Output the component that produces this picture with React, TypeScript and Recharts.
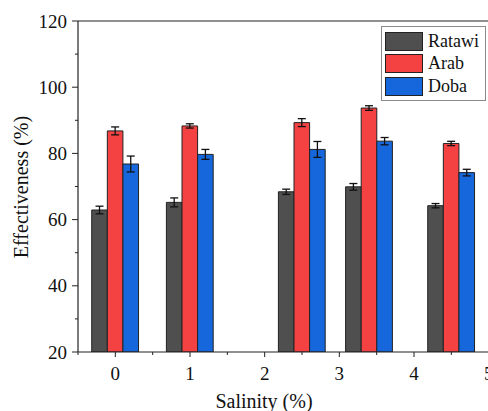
import React from "react";
import {
  ComposedChart,
  Bar,
  ErrorBar,
  XAxis,
  YAxis,
  Legend,
  ReferenceLine,
  Label,
} from "recharts";

const salinity = [0, 1, 2.5, 3.4, 4.5];
const ratawi = [62.9, 65.2, 68.4, 69.9, 64.2];
const arab = [86.8, 88.3, 89.3, 93.7, 83.0];
const doba = [76.8, 79.7, 81.2, 83.7, 74.2];
const ratawiErr = [1.15, 1.35, 0.8, 1.0, 0.65];
const arabErr = [1.2, 0.65, 1.2, 0.7, 0.65];
const dobaErr = [2.4, 1.5, 2.4, 1.1, 1.0];

const xTicks = [-0.5, 0, 0.5, 1, 1.5, 2, 2.5, 3, 3.5, 4, 4.5, 5, 5.5];
const yTicks = [20, 30, 40, 50, 60, 70, 80, 90, 100, 110, 120];

const seriesNames = ["Ratawi", "Arab", "Doba"];
const seriesColors = ["#4f4f4f", "#f44242", "#1767dc"];

const data = salinity.map((s, i) => ({
  salinity: s,
  ratawi: ratawi[i],
  arab: arab[i],
  doba: doba[i],
  ratawiErr: ratawiErr[i],
  arabErr: arabErr[i],
  dobaErr: dobaErr[i],
}));

const FONT = '"Liberation Serif", "Times New Roman", serif';
const INK = "#222";

const Y_TICK_SIZE = 6;
const Y_TICK_MARGIN = 5;
const X_TICK_SIZE = 5;
const X_TICK_MARGIN = 5;

const YTick = (props: any) => {
  const { x, y, payload } = props;
  const ax = x + Y_TICK_SIZE + Y_TICK_MARGIN;
  const major = payload.value % 20 === 0;
  return (
    <g>
      <line x1={ax} x2={ax - (major ? 6 : 3)} y1={y} y2={y} stroke={INK} />
      {major && (
        <text x={x} y={y} dy="0.35em" textAnchor="end" fontFamily={FONT} fontSize={19} fill="#111">
          {payload.value}
        </text>
      )}
    </g>
  );
};

const XTick = (props: any) => {
  const { x, y, payload } = props;
  const ay = y - X_TICK_SIZE - X_TICK_MARGIN;
  const major = Number.isInteger(payload.value);
  return (
    <g>
      <line x1={x} x2={x} y1={ay} y2={ay + (major ? 5 : 3)} stroke={INK} />
      {major && (
        <text x={x} y={y} dy="0.95em" textAnchor="middle" fontFamily={FONT} fontSize={19} fill="#111">
          {payload.value}
        </text>
      )}
    </g>
  );
};

const LegendBox = () => (
  <div
    style={{
      border: "1px solid #8a8a8a",
      background: "#fff",
      padding: "3px 2px 2px 3px",
      fontFamily: FONT,
      fontSize: 18,
      color: "#111",
      width: 98,
    }}
  >
    {seriesNames.map((n, i) => (
      <div key={n} style={{ display: "flex", alignItems: "center", height: 22.5 }}>
        <div
          style={{
            width: 38,
            height: 19,
            background: seriesColors[i],
            border: `1px solid ${INK}`,
            marginRight: 5,
            boxSizing: "border-box",
          }}
        />
        <span>{n}</span>
      </div>
    ))}
  </div>
);

export default function App() {
  return (
    <div
      style={{
        position: "fixed",
        left: 0,
        top: 0,
        width: 488,
        height: 411,
        overflow: "hidden",
        background: "#fff",
      }}
    >
      <ComposedChart
        width={536}
        height={411}
        data={data}
        margin={{ top: 21, right: 10, left: 0, bottom: 0 }}
        barGap={0}
        barSize={15.6}
      >
        <XAxis
          type="number"
          dataKey="salinity"
          domain={[-0.5, 5.5]}
          ticks={xTicks}
          interval={0}
          height={59}
          tickSize={X_TICK_SIZE}
          tickMargin={X_TICK_MARGIN}
          tickLine={false}
          tick={<XTick />}
          axisLine={{ stroke: INK, strokeWidth: 1.2 }}
          allowDataOverflow
        >
          <Label
            content={() => (
              <text x={264} y={408} textAnchor="middle" fontFamily={FONT} fontSize={20} fill="#111">
                Salinity (%)
              </text>
            )}
          />
        </XAxis>
        <YAxis
          type="number"
          domain={[20, 120]}
          ticks={yTicks}
          interval={0}
          width={78}
          tickSize={Y_TICK_SIZE}
          tickMargin={Y_TICK_MARGIN}
          tickLine={false}
          tick={<YTick />}
          axisLine={{ stroke: INK, strokeWidth: 1.2 }}
          allowDataOverflow
        >
          <Label
            content={() => (
              <text
                transform="translate(28,187) rotate(-90)"
                textAnchor="middle"
                fontFamily={FONT}
                fontSize={20}
                fill="#111"
              >
                Effectiveness (%)
              </text>
            )}
          />
        </YAxis>
        <ReferenceLine y={120} stroke={INK} strokeWidth={1.2} />
        <Legend
          layout="horizontal"
          verticalAlign="middle"
          align="center"
          content={<LegendBox />}
          wrapperStyle={{ left: 381, top: 26, width: "auto", bottom: "auto" }}
        />
        <Bar dataKey="ratawi" name="Ratawi" fill={seriesColors[0]} stroke={INK} strokeWidth={1} isAnimationActive={false}>
          <ErrorBar dataKey="ratawiErr" direction="y" width={4} stroke="#111" strokeWidth={1.3} />
        </Bar>
        <Bar dataKey="arab" name="Arab" fill={seriesColors[1]} stroke={INK} strokeWidth={1} isAnimationActive={false}>
          <ErrorBar dataKey="arabErr" direction="y" width={4} stroke="#111" strokeWidth={1.3} />
        </Bar>
        <Bar dataKey="doba" name="Doba" fill={seriesColors[2]} stroke={INK} strokeWidth={1} isAnimationActive={false}>
          <ErrorBar dataKey="dobaErr" direction="y" width={4} stroke="#111" strokeWidth={1.3} />
        </Bar>
      </ComposedChart>
    </div>
  );
}
